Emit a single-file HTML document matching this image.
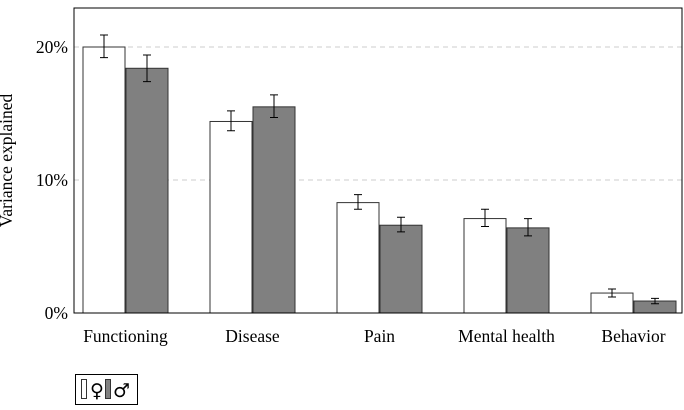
<!DOCTYPE html>
<html><head><meta charset="utf-8"><style>
body{margin:0;background:#fff;width:684px;height:405px;overflow:hidden}
text{font-family:"Liberation Serif",serif;fill:#000}
text.sym{font-family:"DejaVu Sans",sans-serif;font-size:19px}
</style></head><body>
<svg id="c" width="684" height="405"></svg>
<script>
const categories=["Functioning","Disease","Pain","Mental health","Behavior"];
const femaleValues=[20.0,14.4,8.3,7.1,1.5];
const femaleLow=[19.2,13.7,7.8,6.5,1.2];
const femaleHigh=[20.9,15.2,8.9,7.8,1.8];
const maleValues=[18.4,15.5,6.6,6.4,0.9];
const maleLow=[17.4,14.7,6.1,5.8,0.7];
const maleHigh=[19.4,16.4,7.2,7.1,1.1];
const yTicks=[0,10,20];
const yTickLabels=["0%","10%","20%"];

const svg=document.getElementById('c');
const NS="http://www.w3.org/2000/svg";
const L=74,R=682,T=8,B=313;
const y=v=>B-v*13.3;
const groupX=i=>125.5+i*127;
function mk(tag,attrs,parent){const e=document.createElementNS(NS,tag);for(const k in attrs)e.setAttribute(k,attrs[k]);(parent||svg).appendChild(e);return e;}

yTicks.forEach((t,i)=>{
  if(t>0){const g=mk('line',{x1:L,x2:R,y1:y(t),y2:y(t),stroke:'#ccc','stroke-dasharray':'5,4'});
  
  }
  const tx=mk('text',{x:L-6,y:y(t)+6,'text-anchor':'end','font-size':'17.5'});
  tx.textContent=yTickLabels[i];
  
  
});
function bar(x,v,lo,hi,fill,name){
  const r=mk('rect',{x:x,y:y(v),width:42,height:B-y(v),fill:fill,stroke:'#333','stroke-width':1});
  
  
  const cx=x+21;
  const e=mk('path',{d:`M${cx} ${y(hi)}V${y(lo)}M${cx-4} ${y(hi)}H${cx+4}M${cx-4} ${y(lo)}H${cx+4}`,stroke:'#000','stroke-width':1,fill:'none'});
  
  
}
categories.forEach((c,i)=>{
  const gx=groupX(i);
  bar(gx-42.5,femaleValues[i],femaleLow[i],femaleHigh[i],'#fff','bar-female');
  bar(gx+0.5,maleValues[i],maleLow[i],maleHigh[i],'#808080','bar-male');
  const t=mk('text',{x:gx,y:B+29,'text-anchor':'middle','font-size':'17.5'});
  t.textContent=c;
  
  
});
const ax=mk('rect',{x:L,y:T,width:R-L,height:B-T,fill:'none',stroke:'#000','stroke-width':1});


const yt=mk('text',{x:0,y:0,transform:`translate(12,${(T+B)/2}) rotate(-90)`,'text-anchor':'middle','font-size':'17.5'});
yt.textContent="Variance explained";


// legend
const lg=mk('g',{});


mk('rect',{x:75.5,y:374.5,width:62,height:30,fill:'#fff',stroke:'#000'},lg);
mk('rect',{x:81.5,y:379.5,width:5,height:19,fill:'#fff',stroke:'#333'},lg);
const f=mk('text',{x:90,y:397,class:'sym'},lg);f.textContent="♀";
mk('rect',{x:105.5,y:379.5,width:5,height:19,fill:'#808080',stroke:'#333'},lg);
const m=mk('text',{x:113,y:397,class:'sym'},lg);m.textContent="♂";
</script>
</body></html>
